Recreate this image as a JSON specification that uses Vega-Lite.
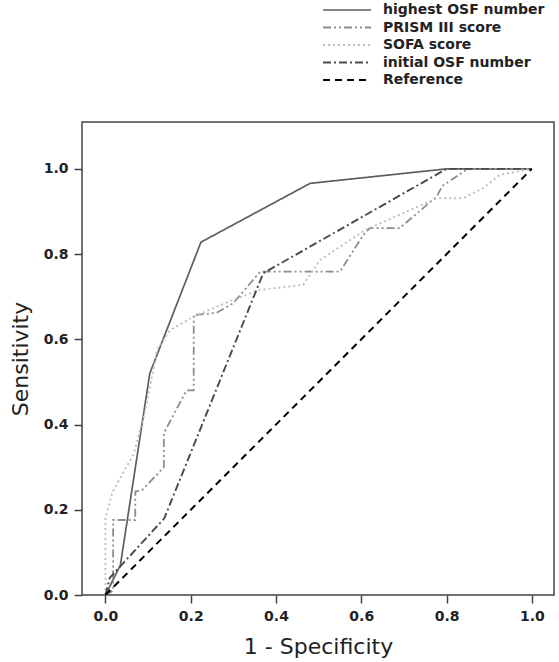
{
  "$schema": "https://vega.github.io/schema/vega-lite/v6.json",
  "width": 472,
  "height": 473,
  "autosize": "none",
  "padding": {"left": 82, "top": 122, "right": 5, "bottom": 67},
  "background": "white",
  "config": {
    "view": {"stroke": "#444444", "strokeWidth": 1.5},
    "font": "DejaVu Sans"
  },
  "data": {
    "values": [
      {"curve": "highest OSF number", "i": 0, "fpr": 0.0, "tpr": 0.0},
      {"curve": "highest OSF number", "i": 1, "fpr": 0.035, "tpr": 0.07},
      {"curve": "highest OSF number", "i": 2, "fpr": 0.104, "tpr": 0.52},
      {"curve": "highest OSF number", "i": 3, "fpr": 0.224, "tpr": 0.828},
      {"curve": "highest OSF number", "i": 4, "fpr": 0.48, "tpr": 0.966},
      {"curve": "highest OSF number", "i": 5, "fpr": 0.8, "tpr": 1.0},
      {"curve": "highest OSF number", "i": 6, "fpr": 1.0, "tpr": 1.0},

      {"curve": "PRISM III score", "i": 0, "fpr": 0.0, "tpr": 0.0},
      {"curve": "PRISM III score", "i": 1, "fpr": 0.018, "tpr": 0.01},
      {"curve": "PRISM III score", "i": 2, "fpr": 0.018, "tpr": 0.176},
      {"curve": "PRISM III score", "i": 3, "fpr": 0.07, "tpr": 0.176},
      {"curve": "PRISM III score", "i": 4, "fpr": 0.07, "tpr": 0.243},
      {"curve": "PRISM III score", "i": 5, "fpr": 0.086, "tpr": 0.246},
      {"curve": "PRISM III score", "i": 6, "fpr": 0.137, "tpr": 0.30},
      {"curve": "PRISM III score", "i": 7, "fpr": 0.137, "tpr": 0.38},
      {"curve": "PRISM III score", "i": 8, "fpr": 0.19, "tpr": 0.48},
      {"curve": "PRISM III score", "i": 9, "fpr": 0.207, "tpr": 0.48},
      {"curve": "PRISM III score", "i": 10, "fpr": 0.207, "tpr": 0.657},
      {"curve": "PRISM III score", "i": 11, "fpr": 0.26, "tpr": 0.662},
      {"curve": "PRISM III score", "i": 12, "fpr": 0.30, "tpr": 0.685},
      {"curve": "PRISM III score", "i": 13, "fpr": 0.363, "tpr": 0.759},
      {"curve": "PRISM III score", "i": 14, "fpr": 0.55, "tpr": 0.759},
      {"curve": "PRISM III score", "i": 15, "fpr": 0.605, "tpr": 0.845},
      {"curve": "PRISM III score", "i": 16, "fpr": 0.62, "tpr": 0.861},
      {"curve": "PRISM III score", "i": 17, "fpr": 0.69, "tpr": 0.861},
      {"curve": "PRISM III score", "i": 18, "fpr": 0.777, "tpr": 0.935},
      {"curve": "PRISM III score", "i": 19, "fpr": 0.79, "tpr": 0.96},
      {"curve": "PRISM III score", "i": 20, "fpr": 0.82, "tpr": 0.98},
      {"curve": "PRISM III score", "i": 21, "fpr": 0.85, "tpr": 1.0},
      {"curve": "PRISM III score", "i": 22, "fpr": 1.0, "tpr": 1.0},

      {"curve": "SOFA score", "i": 0, "fpr": 0.0, "tpr": 0.0},
      {"curve": "SOFA score", "i": 1, "fpr": 0.0, "tpr": 0.18},
      {"curve": "SOFA score", "i": 2, "fpr": 0.016, "tpr": 0.24},
      {"curve": "SOFA score", "i": 3, "fpr": 0.043, "tpr": 0.29},
      {"curve": "SOFA score", "i": 4, "fpr": 0.066, "tpr": 0.33},
      {"curve": "SOFA score", "i": 5, "fpr": 0.09, "tpr": 0.42},
      {"curve": "SOFA score", "i": 6, "fpr": 0.105, "tpr": 0.49},
      {"curve": "SOFA score", "i": 7, "fpr": 0.121, "tpr": 0.575},
      {"curve": "SOFA score", "i": 8, "fpr": 0.152, "tpr": 0.622},
      {"curve": "SOFA score", "i": 9, "fpr": 0.207, "tpr": 0.653},
      {"curve": "SOFA score", "i": 10, "fpr": 0.262, "tpr": 0.677},
      {"curve": "SOFA score", "i": 11, "fpr": 0.308, "tpr": 0.696},
      {"curve": "SOFA score", "i": 12, "fpr": 0.363, "tpr": 0.716},
      {"curve": "SOFA score", "i": 13, "fpr": 0.464, "tpr": 0.728},
      {"curve": "SOFA score", "i": 14, "fpr": 0.503, "tpr": 0.786},
      {"curve": "SOFA score", "i": 15, "fpr": 0.527, "tpr": 0.802},
      {"curve": "SOFA score", "i": 16, "fpr": 0.61, "tpr": 0.857},
      {"curve": "SOFA score", "i": 17, "fpr": 0.777, "tpr": 0.931},
      {"curve": "SOFA score", "i": 18, "fpr": 0.839, "tpr": 0.931},
      {"curve": "SOFA score", "i": 19, "fpr": 0.886, "tpr": 0.955},
      {"curve": "SOFA score", "i": 20, "fpr": 0.925, "tpr": 0.986},
      {"curve": "SOFA score", "i": 21, "fpr": 1.0, "tpr": 1.0},

      {"curve": "initial OSF number", "i": 0, "fpr": 0.0, "tpr": 0.0},
      {"curve": "initial OSF number", "i": 1, "fpr": 0.01, "tpr": 0.04},
      {"curve": "initial OSF number", "i": 2, "fpr": 0.138, "tpr": 0.18},
      {"curve": "initial OSF number", "i": 3, "fpr": 0.37, "tpr": 0.755},
      {"curve": "initial OSF number", "i": 4, "fpr": 0.8, "tpr": 1.0},
      {"curve": "initial OSF number", "i": 5, "fpr": 1.0, "tpr": 1.0},

      {"curve": "Reference", "i": 0, "fpr": 0.0, "tpr": 0.0},
      {"curve": "Reference", "i": 1, "fpr": 1.0, "tpr": 1.0}
    ]
  },
  "mark": {"type": "line", "clip": true},
  "encoding": {
    "x": {
      "field": "fpr",
      "type": "quantitative",
      "scale": {"domain": [-0.055, 1.052], "nice": false, "zero": false},
      "axis": {
        "values": [0, 0.2, 0.4, 0.6, 0.8, 1.0],
        "format": ".1f",
        "domain": false,
        "grid": false,
        "tickSize": 8,
        "tickWidth": 1.5,
        "tickColor": "#444444",
        "labelFont": "DejaVu Sans",
        "labelFontWeight": "bold",
        "labelFontSize": 14,
        "labelColor": "#222222",
        "labelPadding": 6,
        "title": "1 - Specificity",
        "titleFont": "DejaVu Sans",
        "titleFontWeight": "normal",
        "titleFontSize": 22,
        "titleColor": "#222222",
        "titlePadding": 13
      }
    },
    "y": {
      "field": "tpr",
      "type": "quantitative",
      "scale": {"domain": [0, 1.11], "nice": false, "zero": false},
      "axis": {
        "values": [0, 0.2, 0.4, 0.6, 0.8, 1.0],
        "format": ".1f",
        "domain": false,
        "grid": false,
        "tickSize": 8,
        "tickWidth": 1.5,
        "tickColor": "#444444",
        "labelFont": "DejaVu Sans",
        "labelFontWeight": "bold",
        "labelFontSize": 14,
        "labelColor": "#222222",
        "labelPadding": 6,
        "title": "Sensitivity",
        "titleFont": "DejaVu Sans",
        "titleFontWeight": "normal",
        "titleFontSize": 22,
        "titleColor": "#222222",
        "titlePadding": 11
      }
    },
    "order": {"field": "i", "type": "quantitative"},
    "color": {
      "field": "curve",
      "type": "nominal",
      "scale": {
        "domain": ["highest OSF number", "PRISM III score", "SOFA score", "initial OSF number", "Reference"],
        "range": ["#5e5e5e", "#8c8c8c", "#bdbdbd", "#4a4a4a", "#000000"]
      },
      "legend": {
        "orient": "none",
        "legendX": 256,
        "legendY": -121,
        "title": null,
        "symbolType": "M-3,0H3",
        "symbolSize": 256,
        "symbolStrokeWidth": 2,
        "labelFont": "DejaVu Sans",
        "labelFontWeight": "bold",
        "labelFontSize": 14,
        "labelColor": "#222222",
        "labelOffset": 27,
        "rowPadding": 1.5,
        "labelLimit": 300
      }
    },
    "strokeDash": {
      "field": "curve",
      "type": "nominal",
      "scale": {
        "domain": ["highest OSF number", "PRISM III score", "SOFA score", "initial OSF number", "Reference"],
        "range": [[1, 0], [8, 3, 2, 3, 2, 3], [2, 3], [8, 3, 2, 3], [7, 5]]
      },
      "legend": {
        "orient": "none",
        "legendX": 256,
        "legendY": -121,
        "title": null,
        "symbolType": "M-3,0H3",
        "symbolSize": 256,
        "symbolStrokeWidth": 2,
        "labelFont": "DejaVu Sans",
        "labelFontWeight": "bold",
        "labelFontSize": 14,
        "labelColor": "#222222",
        "labelOffset": 27,
        "rowPadding": 1.5,
        "labelLimit": 300
      }
    },
    "strokeWidth": {
      "field": "curve",
      "type": "nominal",
      "scale": {
        "domain": ["highest OSF number", "PRISM III score", "SOFA score", "initial OSF number", "Reference"],
        "range": [1.7, 2, 2, 2, 1.1]
      },
      "legend": null
    }
  }
}
